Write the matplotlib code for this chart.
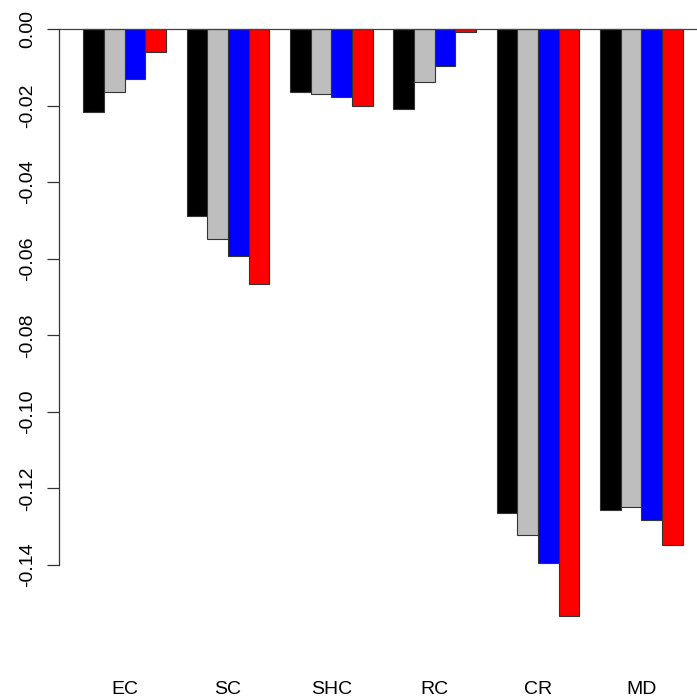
import matplotlib
matplotlib.use("Agg")
import matplotlib.pyplot as plt
import numpy as np

plt.rcParams['font.family'] = ['Liberation Sans', 'DejaVu Sans']
plt.rcParams['axes.unicode_minus'] = False

# change per index, four scenarios per index
categories = ["EC", "SC", "SHC", "RC", "CR", "MD"]
s1 = [-0.0218, -0.0488, -0.0165, -0.0208, -0.1263, -0.1257]
s2 = [-0.0164, -0.0548, -0.0171, -0.0138, -0.1322, -0.1249]
s3 = [-0.0131, -0.0592, -0.0178, -0.0097, -0.1395, -0.1282]
s4 = [-0.0061, -0.0667, -0.0201, -0.0009, -0.1532, -0.1348]
series = [s1, s2, s3, s4]
colors = ["black", "#bebebe", "#0000ff", "#ff0000"]
yticks = [0.0, -0.02, -0.04, -0.06, -0.08, -0.10, -0.12, -0.14]

fig = plt.figure(figsize=(6.97, 6.99), dpi=100)
ax = fig.add_axes([0.0851, 0.0857, 0.9288, 0.9064])

# R-style beside barplot: one empty slot between groups, bars of width 1
n = len(series)
for k, (vals, c) in enumerate(zip(series, colors)):
    x = 1 + (n + 1) * np.arange(len(categories)) + k
    ax.bar(x, vals, width=1, align='edge', color=c,
           edgecolor='#333333', linewidth=0.8)

span = (n + 1) * len(categories) - 1
ax.set_xlim(1 - 0.04 * span, 1 + span + 0.04 * span)
ymin = min(min(v) for v in series)
ax.set_ylim(ymin * 1.04, -ymin * 0.04)

ax.axhline(0, color='#444444', linewidth=0.9)

for side in ['top', 'right', 'bottom']:
    ax.spines[side].set_visible(False)
ax.spines['left'].set_bounds(min(yticks), max(yticks))
ax.spines['left'].set_color('#333333')
ax.spines['left'].set_linewidth(0.9)

ax.set_yticks(yticks)
ax.set_yticklabels(["%.2f" % t for t in yticks], rotation=90,
                   va='center', fontsize=14)
ax.tick_params(axis='y', length=8.6, width=0.9, color='#333333', pad=8)

centers = 1 + (n + 1) * np.arange(len(categories)) + n / 2
ax.set_xticks(centers)
ax.set_xticklabels(categories, fontsize=14)
ax.tick_params(axis='x', length=0, pad=30)

fig.savefig("out.png", dpi=100)
